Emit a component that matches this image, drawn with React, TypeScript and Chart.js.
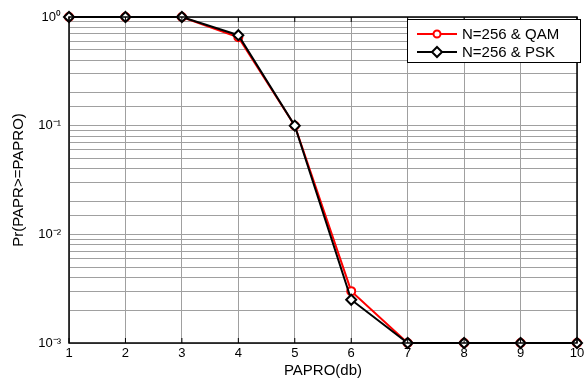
import React, { useEffect, useRef } from "react";
import { Chart, registerables } from "chart.js";

Chart.register(...registerables);

const xValues = [1, 2, 3, 4, 5, 6, 7, 8, 9, 10];
const qamValues = [1, 1, 1, 0.65, 0.1, 0.003, 0.001, 0.001, 0.001, 0.001];
const pskValues = [1, 1, 1, 0.68, 0.1, 0.0025, 0.001, 0.001, 0.001, 0.001];
const seriesNames = ["N=256 & QAM", "N=256 & PSK"];
const xTitle = "PAPRO(db)";
const yTitle = "Pr(PAPR>=PAPRO)";
const supMap: Record<string, string> = { "0": "⁰", "1": "¹", "2": "²", "3": "³", "-": "⁻" };

const FONT = "'Liberation Sans', Arial, sans-serif";

const boxPlugin = {
  id: "boxAndLegend",
  afterDraw(chart: any) {
    const { ctx, chartArea: a } = chart;
    ctx.save();
    ctx.strokeStyle = "#000";
    ctx.lineWidth = 1.5;
    ctx.strokeRect(a.left, a.top, a.right - a.left, a.bottom - a.top);
    const xs = chart.scales.x;
    ctx.lineWidth = 1;
    xValues.forEach((v) => {
      const px = xs.getPixelForValue(v);
      ctx.beginPath();
      ctx.moveTo(px, a.bottom);
      ctx.lineTo(px, a.bottom - 5);
      ctx.moveTo(px, a.top);
      ctx.lineTo(px, a.top + 5);
      ctx.stroke();
    });
    // legend
    const lx = 407, ly = 19, lw = 173, lh = 43;
    ctx.fillStyle = "#fff";
    ctx.fillRect(lx, ly, lw, lh);
    ctx.strokeStyle = "#000";
    ctx.lineWidth = 1;
    ctx.strokeRect(lx + 0.5, ly + 0.5, lw, lh);
    const colors = ["#ff0000", "#000000"];
    ctx.font = `15px ${FONT}`;
    ctx.textBaseline = "middle";
    ctx.textAlign = "left";
    seriesNames.forEach((name, i) => {
      const cy = ly + 15 + i * 18;
      ctx.strokeStyle = colors[i];
      ctx.lineWidth = 2;
      ctx.beginPath();
      ctx.moveTo(lx + 10, cy);
      ctx.lineTo(lx + 50, cy);
      ctx.stroke();
      const mx = lx + 30;
      ctx.fillStyle = "#fff";
      ctx.beginPath();
      if (i === 0) {
        ctx.arc(mx, cy, 3.5, 0, Math.PI * 2);
      } else {
        ctx.moveTo(mx, cy - 5);
        ctx.lineTo(mx + 5, cy);
        ctx.lineTo(mx, cy + 5);
        ctx.lineTo(mx - 5, cy);
        ctx.closePath();
      }
      ctx.fill();
      ctx.stroke();
      ctx.fillStyle = "#000";
      ctx.fillText(name, lx + 55, cy + 1);
    });
    ctx.restore();
  },
};

export default function App() {
  const ref = useRef<HTMLCanvasElement>(null);
  useEffect(() => {
    if (!ref.current) return;
    const chart = new Chart(ref.current, {
      type: "line",
      data: {
        datasets: [
          {
            label: seriesNames[0],
            data: xValues.map((x, i) => ({ x, y: qamValues[i] })),
            borderColor: "#ff0000",
            backgroundColor: "#ffffff",
            borderWidth: 2,
            pointStyle: "circle",
            pointRadius: 4,
            pointBorderWidth: 2,
            pointBorderColor: "#ff0000",
            pointBackgroundColor: "#ffffff",
            clip: false,
            order: 1,
          },
          {
            label: seriesNames[1],
            data: xValues.map((x, i) => ({ x, y: pskValues[i] })),
            borderColor: "#000000",
            backgroundColor: "#ffffff",
            borderWidth: 2,
            pointStyle: "rectRot",
            pointRadius: 5,
            pointBorderWidth: 2,
            pointBorderColor: "#000000",
            pointBackgroundColor: "#ffffff",
            clip: false,
            order: 0,
          },
        ],
      },
      options: {
        animation: false,
        responsive: false,
        layout: { padding: { top: 17, right: 4, left: 0, bottom: 0 } },
        plugins: { legend: { display: false }, tooltip: { enabled: false } },
        scales: {
          x: {
            type: "linear",
            min: 1,
            max: 10,
            ticks: {
              stepSize: 1,
              color: "#000",
              font: { family: FONT, size: 13 },
              padding: 3,
            },
            grid: { color: "#a0a0a0", lineWidth: 1, drawTicks: false },
            border: { display: false },
            title: {
              display: true,
              text: xTitle,
              color: "#000",
              font: { family: FONT, size: 15 },
              padding: { top: 0, bottom: 0 },
            },
            afterFit(scale: any) {
              scale.height = 37;
              scale.paddingLeft = 0;
              scale.paddingRight = 0;
            },
          },
          y: {
            type: "logarithmic",
            min: 0.001,
            max: 1,
            ticks: {
              autoSkip: false,
              color: "#000",
              font: { family: FONT, size: 13 },
              padding: 8,
              callback(value: any) {
                const l = Math.log10(Number(value));
                if (Math.abs(l - Math.round(l)) < 1e-6) {
                  const e = String(Math.round(l));
                  return "10" + e.split("").map((c) => supMap[c] || c).join("");
                }
                return "";
              },
            },
            grid: { color: "#a0a0a0", lineWidth: 1, drawTicks: false },
            border: { display: false },
            title: {
              display: true,
              text: yTitle,
              color: "#000",
              font: { family: FONT, size: 15 },
              padding: { top: 10, bottom: 4 },
            },
            afterFit(scale: any) {
              scale.width = 69;
              scale.paddingTop = 0;
              scale.paddingBottom = 0;
            },
          },
        },
      },
      plugins: [boxPlugin],
    });
    return () => chart.destroy();
  }, []);
  return (
    <div style={{ position: "fixed", left: 0, top: 0, width: 584, height: 380, background: "#fff" }}>
      <canvas ref={ref} width={584} height={380} style={{ width: 584, height: 380 }} />
    </div>
  );
}
